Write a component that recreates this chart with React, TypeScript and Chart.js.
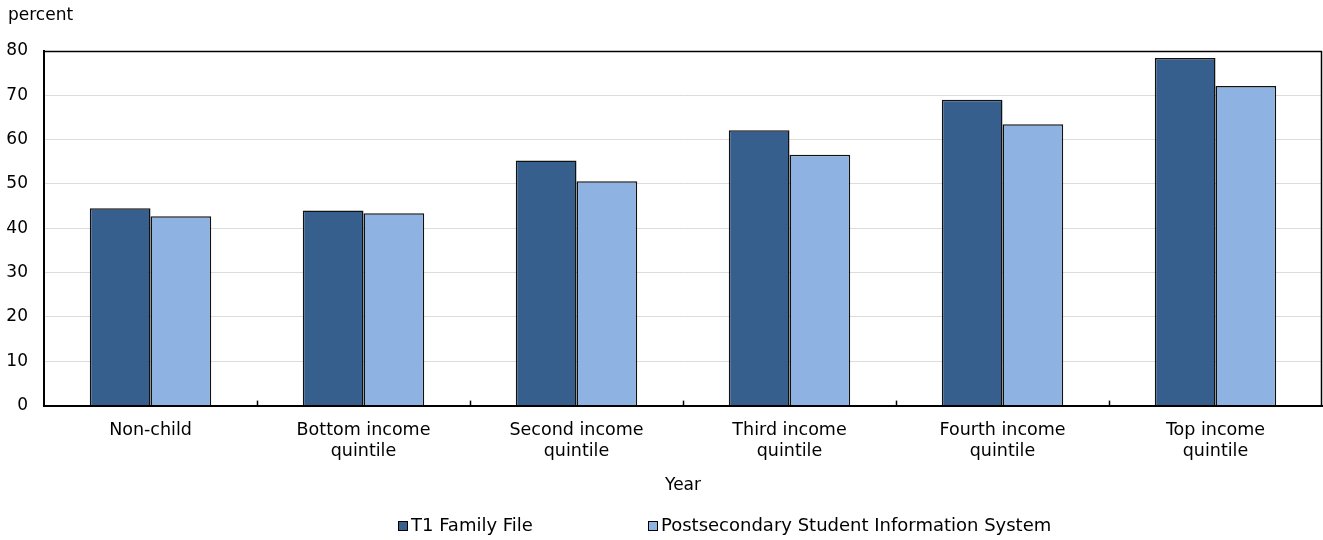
import React, { useEffect, useRef } from "react";
import { Chart, registerables } from "chart.js";

Chart.register(...registerables);

const categories: string[][] = [
  ["Non-child"],
  ["Bottom income", "quintile"],
  ["Second income", "quintile"],
  ["Third income", "quintile"],
  ["Fourth income", "quintile"],
  ["Top income", "quintile"],
];
const t1Values = [44.5, 44.0, 55.3, 62.1, 69.0, 78.4];
const psisValues = [42.7, 43.4, 50.6, 56.6, 63.5, 72.1];
const seriesNames = ["T1 Family File", "Postsecondary Student Information System"];
const seriesColors = ["#365f8e", "#8eb3e2"];
const yAxisLabel = "percent";
const xAxisLabel = "Year";
const yMin = 0;
const yMax = 80;
const yStep = 10;

const FONT = "'DejaVu Sans', Verdana, sans-serif";

const decorPlugin = {
  id: "decor",
  afterDraw(chart: any) {
    const ctx = chart.ctx;
    const { left, right, top, bottom } = chart.chartArea;
    ctx.save();
    ctx.strokeStyle = "#000";
    ctx.lineWidth = 1.5;
    ctx.beginPath();
    ctx.moveTo(left, top + 0.5);
    ctx.lineTo(right - 0.5, top + 0.5);
    ctx.lineTo(right - 0.5, bottom);
    ctx.stroke();
    const xs = chart.scales.x;
    ctx.lineWidth = 1.5;
    for (let i = 0; i < categories.length - 1; i++) {
      const a = xs.getPixelForTick(i);
      const b = xs.getPixelForTick(i + 1);
      const x = Math.round((a + b) / 2) + 0.5;
      ctx.beginPath();
      ctx.moveTo(x, bottom);
      ctx.lineTo(x, bottom - 5);
      ctx.stroke();
    }
    ctx.fillStyle = "#000";
    ctx.font = `17px ${FONT}`;
    ctx.textBaseline = "middle";
    ctx.textAlign = "left";
    ctx.fillText(yAxisLabel, 8, 16);
    const legendY = 526;
    const itemX = [398, 648];
    ctx.font = `18px ${FONT}`;
    seriesNames.forEach((name, i) => {
      const x = itemX[i];
      ctx.fillStyle = seriesColors[i];
      ctx.fillRect(x, legendY - 5, 10, 10);
      ctx.strokeStyle = "#000";
      ctx.lineWidth = 1;
      ctx.strokeRect(x + 0.5, legendY - 4.5, 9, 9);
      ctx.fillStyle = "#000";
      ctx.fillText(name, x + 13, legendY);
    });
    ctx.restore();
  },
};

export default function App() {
  const ref = useRef<HTMLCanvasElement | null>(null);
  useEffect(() => {
    document.body.style.margin = "0";
    if (!ref.current) return;
    const chart = new Chart(ref.current, {
      type: "bar",
      data: {
        labels: categories,
        datasets: [
          {
            label: seriesNames[0],
            data: t1Values,
            backgroundColor: seriesColors[0],
            borderColor: "#111",
            borderWidth: 1.5,
          },
          {
            label: seriesNames[1],
            data: psisValues,
            backgroundColor: seriesColors[1],
            borderColor: "#111",
            borderWidth: 1.5,
          },
        ],
      },
      options: {
        responsive: false,
        animation: false,
        layout: { padding: { top: 51, left: 7, right: 1, bottom: 44 } },
        plugins: {
          legend: { display: false },
          tooltip: { enabled: false },
          title: { display: false },
        },
        datasets: {
          bar: { categoryPercentage: 0.57, barPercentage: 1.0 },
        },
        scales: {
          x: {
            grid: { display: false, drawTicks: false },
            border: { display: true, color: "#000", width: 2 },
            ticks: {
              color: "#000",
              font: { family: FONT, size: 17.5 },
              padding: 14,
              maxRotation: 0,
              autoSkip: false,
            },
            title: {
              display: true,
              text: xAxisLabel,
              color: "#000",
              font: { family: FONT, size: 17 },
              padding: { top: 0, bottom: 0 },
            },
          },
          y: {
            min: yMin,
            max: yMax,
            afterFit: (scale: any) => {
              scale.width = 37;
            },
            grid: { color: "#dcdcdc", lineWidth: 1, drawTicks: false },
            border: { display: true, color: "#000", width: 2 },
            ticks: {
              stepSize: yStep,
              color: "#000",
              font: { family: FONT, size: 17 },
              padding: 16,
            },
          },
        },
      },
      plugins: [decorPlugin],
    } as any);
    return () => chart.destroy();
  }, []);
  return <canvas ref={ref} width={1323} height={540} style={{ display: "block" }} />;
}
